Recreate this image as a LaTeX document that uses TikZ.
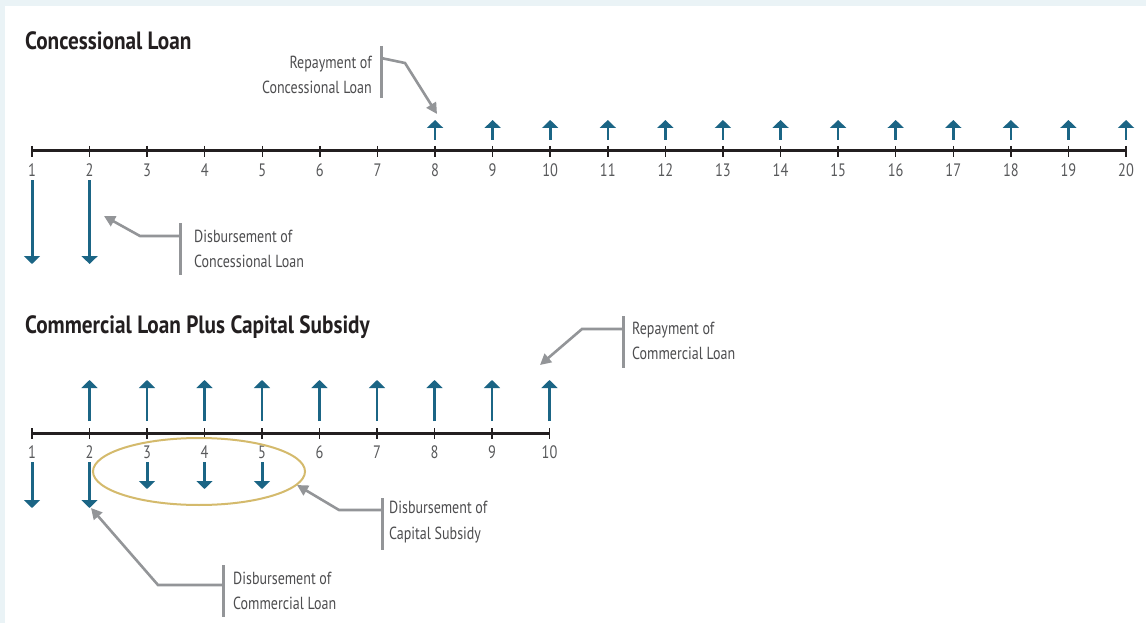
\documentclass[tikz,border=0pt]{standalone}
\usepackage{fontspec}
\setmainfont{PT Sans}[FakeStretch=0.8,BoldFeatures={FakeStretch=0.85}]
\usetikzlibrary{arrows.meta,shapes.geometric}
\definecolor{tealA}{HTML}{1B6585}
\definecolor{leadgray}{HTML}{939598}
\definecolor{txtgray}{HTML}{4D4D4F}
\definecolor{labgray}{HTML}{58595B}
\definecolor{goldA}{HTML}{D4BA6C}
\definecolor{bgblue}{HTML}{EAF3F6}
\definecolor{titleblack}{HTML}{231F20}
\tikzset{
  axisline/.style={draw=titleblack, line width=3pt},
  tickline/.style={draw=titleblack, line width=1.5pt},
  ticklab/.style={text=labgray, font=\fontsize{18}{20}\selectfont, inner sep=0pt},
  flowup/.style={draw=tealA, line width=2.6pt, -{Triangle[length=8pt,width=16pt]}},
  flowdown/.style={draw=tealA, line width=3pt, -{Triangle[length=8pt,width=16pt]}},
  leader/.style={draw=leadgray, line width=2.6pt, line join=miter, -{Triangle[length=11pt,width=11pt]}},
  bar/.style={draw=leadgray, line width=3pt},
  note/.style={text=txtgray, font=\fontsize{17.5}{25.5}\selectfont, inner sep=0pt},
  title/.style={text=titleblack, font=\fontsize{25}{28}\selectfont\bfseries, inner sep=0pt, anchor=west},
}
\begin{document}
\begin{tikzpicture}[x=1pt,y=-1pt]
\fill[bgblue] (0,0) rectangle (1146,623);
\fill[white] (5,6) rectangle (1146,623);
\useasboundingbox (0,0) rectangle (1146,623);

% ---------- Concessional Loan ----------
\node[title] (t1) at (25,41) {Concessional Loan};
\foreach \i in {1,...,20}{
  \coordinate (a\i) at ({32+(\i-1)*57.58},151);
  \coordinate (at\i) at ({32+(\i-1)*57.58},146);
  \coordinate (ab\i) at ({32+(\i-1)*57.58},157);
  \node[ticklab] (al\i) at ({32+(\i-1)*57.58},170) {\i};
}
\draw[axisline] (a1) -- (a20);
\foreach \i in {1,...,20}{ \draw[tickline] (at\i) -- (ab\i); }
\foreach \i in {8,...,20}{
  \coordinate (us\i) at ({32+(\i-1)*57.58},140);
  \coordinate (ue\i) at ({32+(\i-1)*57.58},120);
  \draw[flowup] (us\i) -- (ue\i);
}
\foreach \i in {1,2}{
  \coordinate (ds\i) at ({32+(\i-1)*57.58},180);
  \coordinate (de\i) at ({32+(\i-1)*57.58},264);
  \draw[flowdown] (ds\i) -- (de\i);
}
% annotation: repayment
\node[note, anchor=east, align=right] (n1) at (372,75) {Repayment of\\Concessional Loan};
\coordinate (b1t) at (381,46); \coordinate (b1b) at (381,98);
\draw[bar] (b1t) -- (b1b);
\coordinate (l1a) at (381,58); \coordinate (l1b) at (405,63); \coordinate (l1c) at (437,114);
\draw[leader] (l1a) -- (l1b) -- (l1c);
% annotation: disbursement
\node[note, anchor=west, align=left] (n2) at (194,249) {Disbursement of\\Concessional Loan};
\coordinate (b2t) at (180,223); \coordinate (b2b) at (180,275);
\draw[bar] (b2t) -- (b2b);
\coordinate (l2a) at (180,236); \coordinate (l2b) at (140,236); \coordinate (l2c) at (104,216);
\draw[leader] (l2a) -- (l2b) -- (l2c);

% ---------- Commercial Loan Plus Capital Subsidy ----------
\node[title] (t2) at (25,327) {Commercial Loan Plus Capital Subsidy};
\foreach \i in {1,...,10}{
  \coordinate (c\i) at ({32+(\i-1)*57.5},433);
  \coordinate (ct\i) at ({32+(\i-1)*57.5},428);
  \coordinate (cb\i) at ({32+(\i-1)*57.5},439);
  \node[ticklab] (cl\i) at ({32+(\i-1)*57.5},452) {\i};
}
\draw[axisline] (c1) -- (c10);
\foreach \i in {1,...,10}{ \draw[tickline] (ct\i) -- (cb\i); }
\foreach \i in {2,...,10}{
  \coordinate (cus\i) at ({32+(\i-1)*57.5},421);
  \coordinate (cue\i) at ({32+(\i-1)*57.5},380);
  \draw[flowup] (cus\i) -- (cue\i);
}
\foreach \i in {1,2}{
  \coordinate (cds\i) at ({32+(\i-1)*57.5},462);
  \coordinate (cde\i) at ({32+(\i-1)*57.5},508);
  \draw[flowdown] (cds\i) -- (cde\i);
}
\foreach \i in {3,4,5}{
  \coordinate (cds\i) at ({32+(\i-1)*57.5},462);
  \coordinate (cde\i) at ({32+(\i-1)*57.5},489);
  \draw[flowdown] (cds\i) -- (cde\i);
}
\node[draw=goldA, line width=2pt, ellipse, minimum width=212pt, minimum height=67pt, inner sep=0pt] (ell) at (199,471.5) {};

% annotation: repayment commercial
\node[note, anchor=west, align=left] (n3) at (632,341) {Repayment of\\Commercial Loan};
\coordinate (b3t) at (623,316); \coordinate (b3b) at (623,368);
\draw[bar] (b3t) -- (b3b);
\coordinate (l3a) at (623,329); \coordinate (l3b) at (582,329); \coordinate (l3c) at (540,365);
\draw[leader] (l3a) -- (l3b) -- (l3c);
% annotation: capital subsidy
\node[note, anchor=west, align=left] (n4) at (389,522) {Disbursement of\\Capital Subsidy};
\coordinate (b4t) at (382,498); \coordinate (b4b) at (382,550);
\draw[bar] (b4t) -- (b4b);
\coordinate (l4a) at (382,510); \coordinate (l4b) at (339,510); \coordinate (l4c) at (297,485);
\draw[leader] (l4a) -- (l4b) -- (l4c);
% annotation: commercial loan
\node[note, anchor=west, align=left] (n5) at (233,591) {Disbursement of\\Commercial Loan};
\coordinate (b5t) at (223,565); \coordinate (b5b) at (223,617);
\draw[bar] (b5t) -- (b5b);
\coordinate (l5a) at (223,585); \coordinate (l5b) at (158,585); \coordinate (l5c) at (91,508);
\draw[leader] (l5a) -- (l5b) -- (l5c);
\end{tikzpicture}
\end{document}
